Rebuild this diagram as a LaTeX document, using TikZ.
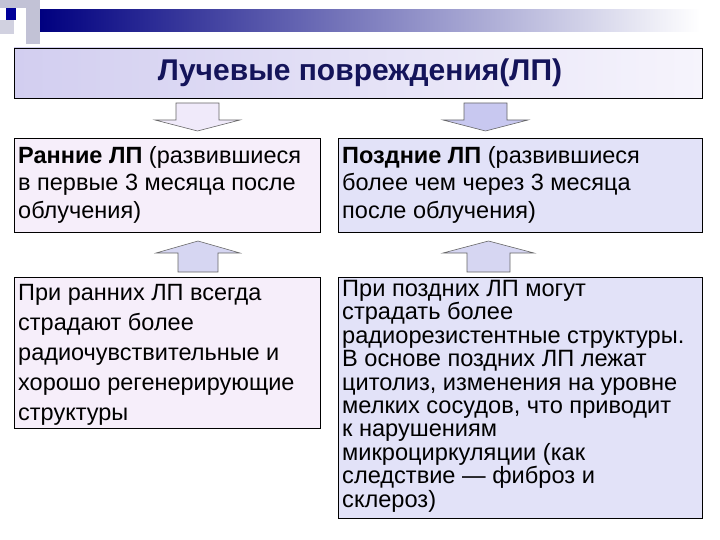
\documentclass[tikz,border=0pt]{standalone}
\usepackage{fontspec}
\setmainfont{Liberation Sans}
\begin{document}
\begin{tikzpicture}[x=1pt,y=-1pt,
 box/.style={draw=black,line width=0.8pt,anchor=north west,inner sep=0pt},
 txt/.style={anchor=north west,align=left,inner sep=0pt,font=\fontsize{23.5}{27.5}\selectfont},
 arr/.style={draw=black!60,line width=0.6pt}]
\useasboundingbox (0,0) rectangle (720,540);
% decoration
\shade[left color=blue!50!black,right color=white] (40,10) rectangle (700,32);
\fill[blue!20!gray!40] (0,0) rectangle (26,8);
\fill[blue!20!gray!40] (26,0) rectangle (40,44);
\fill[blue!20!gray!30] (0,20) rectangle (14,34);
\fill[blue!60!black] (6,8) rectangle (16,20);
\fill[white] (16,8) rectangle (26,20);
% title
\shade[left color={rgb,255:red,210;green,206;blue,240},right color={rgb,255:red,246;green,244;blue,252},draw=black,line width=0.8pt] (14,48) rectangle (702,98);
\node[font=\bfseries\fontsize{30}{34}\selectfont,text={rgb,255:red,20;green,20;blue,90}] (t) at (360,73) {Лучевые повреждения(ЛП)};
% down arrows
\filldraw[arr,fill={rgb,255:red,240;green,234;blue,250}] (176,103) -- (219,103) -- (219,120) -- (240,120) -- (197.5,131) -- (155,120) -- (176,120) -- cycle;
\filldraw[arr,fill={rgb,255:red,200;green,200;blue,240}] (464,103) -- (507,103) -- (507,120) -- (528,120) -- (485.5,131) -- (443,120) -- (464,120) -- cycle;
% boxes
\filldraw[box,fill={rgb,255:red,246;green,238;blue,250}] (14,138) rectangle (320,232);
\filldraw[box,fill={rgb,255:red,226;green,226;blue,248}] (338,138) rectangle (702,232);
\filldraw[box,fill={rgb,255:red,246;green,238;blue,250}] (14,277) rectangle (320,428);
\filldraw[box,fill={rgb,255:red,226;green,226;blue,248}] (338,277) rectangle (702,518);
\node[txt] (a) at (18,146) {\textbf{Ранние ЛП} (развившиеся\\в первые 3 месяца после\\облучения)};
\node[txt] (b) at (342,146) {\textbf{Поздние ЛП} (развившиеся\\более чем через 3 месяца\\после облучения)};
\node[txt,font=\fontsize{23.5}{30}\selectfont] (c) at (18,284) {При ранних ЛП всегда\\страдают более\\радиочувствительные и\\хорошо регенерирующие\\структуры};
\node[txt,font=\fontsize{23.6}{23.4}\selectfont] (d) at (342,280) {При поздних ЛП могут\\страдать более\\радиорезистентные структуры.\\В основе поздних ЛП лежат\\цитолиз, изменения на уровне\\мелких сосудов, что приводит\\к нарушениям\\микроциркуляции (как\\следствие — фиброз и\\склероз)};
% up arrows
\filldraw[arr,fill={rgb,255:red,214;green,214;blue,242}] (178,272) -- (218,272) -- (218,253) -- (240,253) -- (198,241) -- (156,253) -- (178,253) -- cycle;
\filldraw[arr,fill={rgb,255:red,214;green,214;blue,242}] (467,272) -- (510,272) -- (510,253) -- (534,253) -- (488.5,241) -- (443,253) -- (467,253) -- cycle;
\end{tikzpicture}
\end{document}
